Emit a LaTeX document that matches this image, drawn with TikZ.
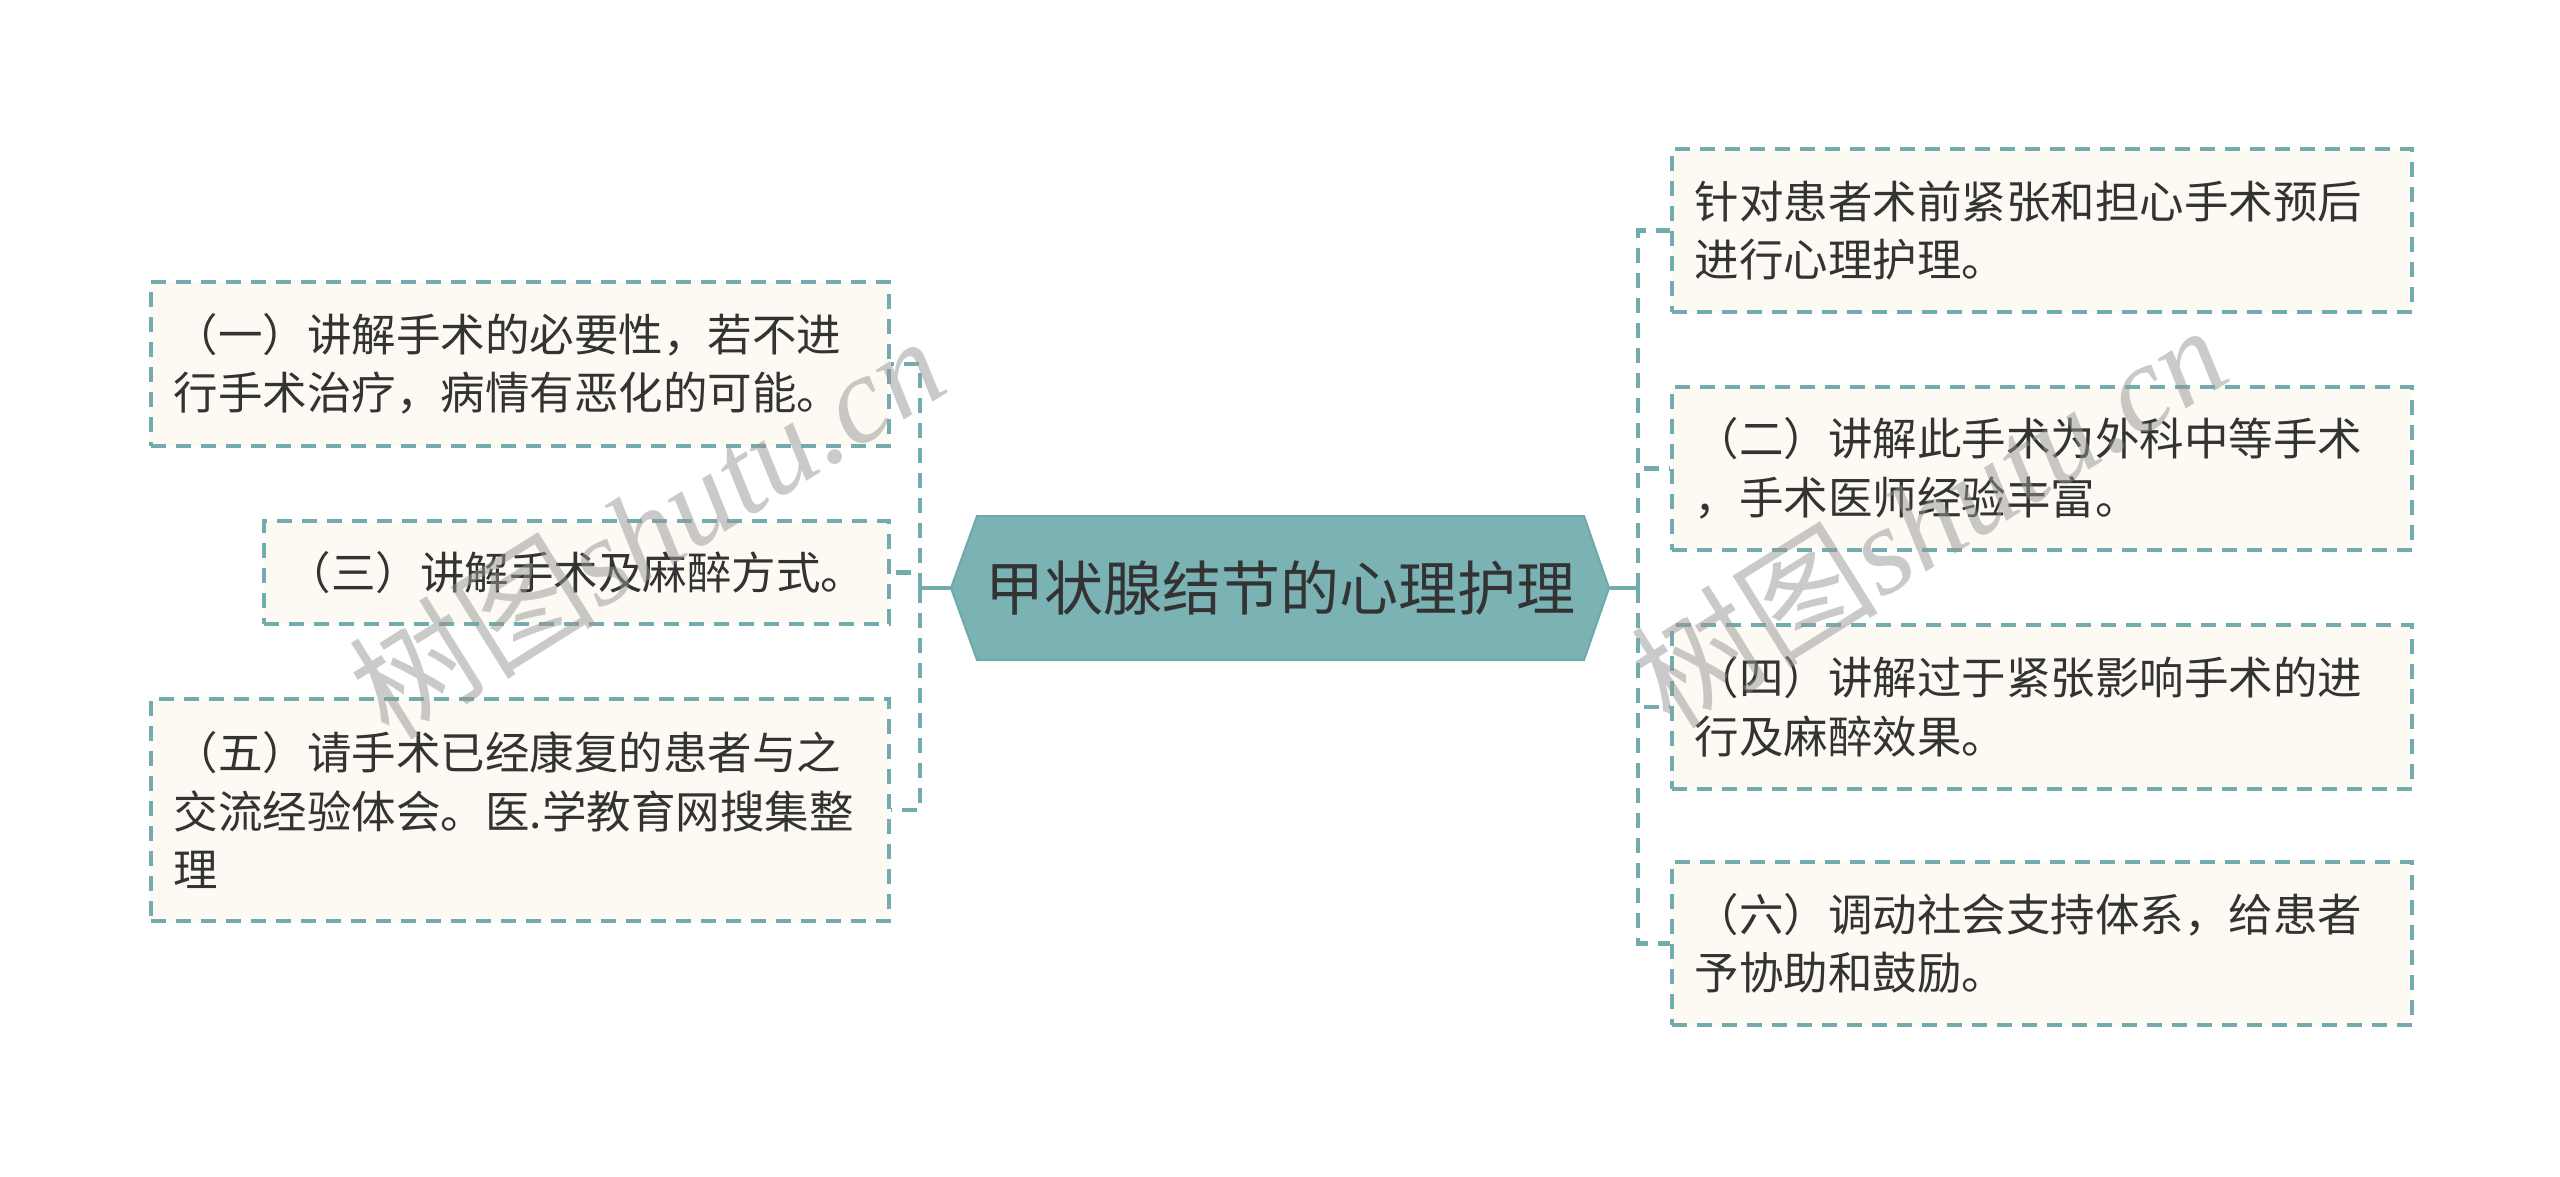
\documentclass[tikz,border=0pt]{standalone}
\usepackage{fontspec}
\newfontfamily\cjk{Noto Sans CJK SC}
\newfontfamily\wmserif{Liberation Serif}
\definecolor{hexfill}{HTML}{7BB3B5}
\definecolor{hexline}{HTML}{6FA9AB}
\definecolor{linecol}{HTML}{72ACAE}
\definecolor{boxfill}{HTML}{FCFAF2}
\definecolor{txt}{HTML}{333333}
\definecolor{wmcol}{HTML}{969696}
\begin{document}
\begin{tikzpicture}[x=1pt,y=-1pt,
  box/.style={draw=linecol, line width=3.5pt, dash pattern=on 15pt off 10pt,
    fill=boxfill, inner xsep=23pt, inner ysep=0pt, align=left, anchor=west,
    font=\cjk\fontsize{44.5}{58.5}\selectfont, text=txt},
  link/.style={draw=linecol, line width=4.5pt, dash pattern=on 15pt off 10pt},
  trunk/.style={draw=linecol, line width=4.5pt},
  wm/.style={rotate=32, text=wmcol, text opacity=0.5, inner sep=0pt,
    font=\fontsize{124}{124}\selectfont}
]
\useasboundingbox[fill=white] (0,0) rectangle (2560,1176);

% central hexagon
\path[fill=hexfill, draw=hexline, line width=2pt]
  (951,588) -- (977,516) -- (1584,516) -- (1609,588) -- (1584,660) -- (977,660) -- cycle;
\node[minimum width=658pt, minimum height=144pt, inner sep=0pt, text=txt,
  font=\cjk\fontsize{59}{70}\selectfont] (root) at (1280,588) {甲状腺结节的心理护理};

% left boxes
\node[box, text width=692pt, minimum height=164pt] (b1) at (149,364)
  {（一）讲解手术的必要性，若不进\\行手术治疗，病情有恶化的可能。};
\node[box, text width=579pt, minimum height=103pt] (b3) at (262,572.5)
  {（三）讲解手术及麻醉方式。};
\node[box, text width=692pt, minimum height=222pt] (b5) at (149,810)
  {（五）请手术已经康复的患者与之\\交流经验体会。医.学教育网搜集整\\理};

% right boxes
\node[box, text width=694pt, minimum height=163pt] (ra) at (1670,230.5)
  {针对患者术前紧张和担心手术预后\\进行心理护理。};
\node[box, text width=694pt, minimum height=163pt] (rb) at (1670,468.5)
  {（二）讲解此手术为外科中等手术\\，手术医师经验丰富。};
\node[box, text width=694pt, minimum height=164pt] (rc) at (1670,707)
  {（四）讲解过于紧张影响手术的进\\行及麻醉效果。};
\node[box, text width=694pt, minimum height=163pt] (rd) at (1670,943.5)
  {（六）调动社会支持体系，给患者\\予协助和鼓励。};

% connectors
\coordinate (LT) at (920,588);
\coordinate (RT) at (1638,588);
\draw[trunk] (root.west) -- (LT);
\draw[trunk] (root.east) -- (RT);
\draw[link] (LT) |- (b1.east);
\draw[link] (LT) |- (b3.east);
\draw[link] (LT) |- (b5.east);
\draw[link] (RT) |- (ra.west);
\draw[link] (RT) |- (rb.west);
\draw[link] (RT) |- (rc.west);
\draw[link] (RT) |- (rd.west);

% watermarks
\node[wm] (wm1) at (646,526) {{\cjk 树图}{\wmserif\itshape shutu.cn}};
\node[wm] (wm2) at (1928,515) {{\cjk 树图}{\wmserif\itshape shutu.cn}};
\end{tikzpicture}
\end{document}
